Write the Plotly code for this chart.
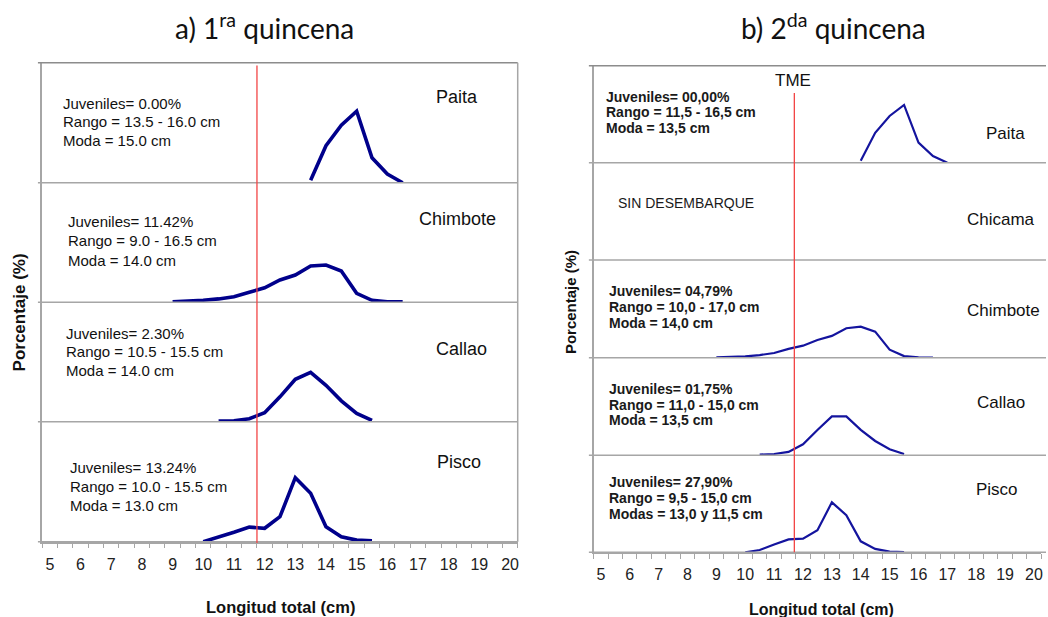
import plotly.graph_objects as go

W, H = 1048, 617

# ---------------- data (percent by total length, cm) ----------------
left_sites = ["Paita", "Chimbote", "Callao", "Pisco"]
right_sites = ["Paita", "Chicama", "Chimbote", "Callao", "Pisco"]

paita1_x = [13.5, 14.0, 14.5, 15.0, 15.5, 16.0, 16.5]
paita1_y = [1.2, 18.5, 28.8, 35.8, 12.5, 4.3, 0.0]
chimbote1_x = [9.0, 9.5, 10.0, 10.5, 11.0, 11.5, 12.0, 12.5, 13.0, 13.5, 14.0, 14.5, 15.0, 15.5, 16.0, 16.5]
chimbote1_y = [0.3, 0.5, 1.0, 1.7, 2.8, 5.0, 7.3, 11.2, 13.7, 18.2, 18.7, 15.7, 4.5, 1.0, 0.2, 0.2]
callao1_x = [10.5, 11.0, 11.5, 12.0, 12.5, 13.0, 13.5, 14.0, 14.5, 15.0, 15.5]
callao1_y = [0.3, 0.5, 1.5, 4.5, 12.5, 21.3, 24.8, 18.3, 10.5, 4.2, 0.7]
pisco1_x = [10.0, 10.5, 11.0, 11.5, 12.0, 12.5, 13.0, 13.5, 14.0, 14.5, 15.0, 15.5]
pisco1_y = [0.0, 2.2, 4.7, 7.3, 6.7, 12.5, 32.0, 24.2, 7.5, 2.5, 0.8, 0.5]

paita2_x = [14.0, 14.5, 15.0, 15.5, 16.0, 16.5, 17.0]
paita2_y = [1.2, 18.5, 28.9, 35.7, 12.4, 4.1, 0.0]
chicama2_x = []
chicama2_y = []
chimbote2_x = [9.0, 9.5, 10.0, 10.5, 11.0, 11.5, 12.0, 12.5, 13.0, 13.5, 14.0, 14.5, 15.0, 15.5, 16.0, 16.5]
chimbote2_y = [0.2, 0.4, 0.8, 1.6, 2.9, 5.4, 7.4, 10.9, 13.4, 18.1, 19.1, 16.0, 4.9, 1.0, 0.2, 0.0]
callao2_x = [10.5, 11.0, 11.5, 12.0, 12.5, 13.0, 13.5, 14.0, 14.5, 15.0, 15.5]
callao2_y = [0.4, 0.8, 2.1, 6.8, 15.6, 23.9, 23.9, 15.6, 8.8, 3.7, 0.8]
pisco2_x = [10.0, 10.5, 11.0, 11.5, 12.0, 12.5, 13.0, 13.5, 14.0, 14.5, 15.0, 15.5]
pisco2_y = [0.0, 1.4, 4.8, 8.0, 8.4, 13.6, 30.9, 23.0, 6.8, 2.1, 0.4, 0.2]

tick_vals = [5, 6, 7, 8, 9, 10, 11, 12, 13, 14, 15, 16, 17, 18, 19, 20]
tick_text = ["5", "6", "7", "8", "9", "10", "11", "12", "13", "14", "15", "16", "17", "18", "19", "20"]
tme_left = 11.75
tme_right = 11.7

left_info = [
    ["Juveniles= 0.00%", "Rango = 13.5 - 16.0 cm", "Moda = 15.0 cm"],
    ["Juveniles= 11.42%", "Rango = 9.0 - 16.5 cm", "Moda = 14.0 cm"],
    ["Juveniles= 2.30%", "Rango = 10.5 - 15.5 cm", "Moda = 14.0 cm"],
    ["Juveniles= 13.24%", "Rango = 10.0 - 15.5 cm", "Moda = 13.0 cm"],
]
right_info = [
    ["Juveniles= 00,00%", "Rango = 11,5 - 16,5 cm", "Moda = 13,5 cm"],
    ["SIN DESEMBARQUE"],
    ["Juveniles= 04,79%", "Rango = 10,0 - 17,0 cm", "Moda = 14,0 cm"],
    ["Juveniles= 01,75%", "Rango = 11,0 - 15,0 cm", "Moda = 13,5 cm"],
    ["Juveniles= 27,90%", "Rango = 9,5 - 15,0 cm", "Modas = 13,0 y 11,5 cm"],
]

left_series = [(paita1_x, paita1_y), (chimbote1_x, chimbote1_y), (callao1_x, callao1_y), (pisco1_x, pisco1_y)]
right_series = [(paita2_x, paita2_y), (chicama2_x, chicama2_y), (chimbote2_x, chimbote2_y),
                (callao2_x, callao2_y), (pisco2_x, pisco2_y)]

# ---------------- layout geometry (pixels) ----------------
def px(x):
    return x / W

def py(y):
    return 1 - y / H

L_X0, L_X1 = 42.3, 518.7
R_X0, R_X1 = 594.8, 1043.2
L_bands = [(62.7, 182.7), (182.7, 302.3), (302.3, 421.7), (421.7, 541.7)]
R_bands = [(65.7, 162.7), (162.7, 260.0), (260.0, 357.7), (357.7, 455.3), (455.3, 552.3)]

GRAY = "#a6a6a6"
ARIAL = "Liberation Sans, Arial, sans-serif"
LINE_L = "#00008b"
LINE_R = "#14149e"

fig = go.Figure()
layout = dict(
    width=W, height=H, autosize=False,
    margin=dict(l=0, r=0, t=0, b=0),
    paper_bgcolor="white", plot_bgcolor="white",
    showlegend=False,
)

# x axes
common_x = dict(
    range=[4.75, 20.25], tickmode="array", tickvals=tick_vals, ticktext=tick_text,
    ticks="", showgrid=False, zeroline=False, showline=True, linecolor=GRAY, linewidth=1.5,
    tickfont=dict(family=ARIAL, size=16, color="#222"),
    minor=dict(tickmode="linear", tick0=4.75, dtick=0.5, ticks="outside", ticklen=5,
               tickcolor=GRAY, tickwidth=1, showgrid=False),
    fixedrange=True,
)
layout["xaxis"] = dict(common_x, domain=[px(L_X0), px(L_X1)], anchor="y4", ticklabelstandoff=7)
layout["xaxis2"] = dict(common_x, domain=[px(R_X0), px(R_X1)], anchor="y9", ticklabelstandoff=7)

common_y = dict(range=[0, 60], showticklabels=False, ticks="", showgrid=False, zeroline=False,
                showline=True, linecolor=GRAY, linewidth=1.5, fixedrange=True)

for i, (t, b) in enumerate(L_bands):
    name = "yaxis" if i == 0 else f"yaxis{i + 1}"
    layout[name] = dict(common_y, domain=[py(b), py(t)], anchor="x")
for j, (t, b) in enumerate(R_bands):
    layout[f"yaxis{j + 5}"] = dict(common_y, domain=[py(b), py(t)], anchor="x2")

# traces
for i, (xs, ys) in enumerate(left_series):
    fig.add_trace(go.Scatter(x=xs, y=ys, mode="lines", xaxis="x",
                             yaxis="y" if i == 0 else f"y{i + 1}",
                             line=dict(color=LINE_L, width=3.6), hoverinfo="skip"))
for j, (xs, ys) in enumerate(right_series):
    fig.add_trace(go.Scatter(x=xs, y=ys, mode="lines", xaxis="x2", yaxis=f"y{j + 5}",
                             line=dict(color=LINE_R, width=2.2), hoverinfo="skip"))

shapes = []
# left frame: top border, separators, right border
shapes.append(dict(type="line", xref="paper", yref="paper", x0=px(38), x1=px(L_X1),
                   y0=py(L_bands[0][0]), y1=py(L_bands[0][0]), line=dict(color="#8c8c8c", width=1.5)))
for (t, b) in L_bands:
    shapes.append(dict(type="line", xref="paper", yref="paper", x0=px(38), x1=px(L_X1),
                       y0=py(b), y1=py(b), line=dict(color=GRAY, width=1.5)))
shapes.append(dict(type="line", xref="paper", yref="paper", x0=px(L_X1), x1=px(L_X1),
                   y0=py(L_bands[-1][1]), y1=py(L_bands[0][0]), line=dict(color=GRAY, width=1.5)))
# right frame
shapes.append(dict(type="line", xref="paper", yref="paper", x0=px(590), x1=1,
                   y0=py(R_bands[0][0]), y1=py(R_bands[0][0]), line=dict(color="#8c8c8c", width=1.5)))
for (t, b) in R_bands:
    shapes.append(dict(type="line", xref="paper", yref="paper", x0=px(590), x1=1,
                       y0=py(b), y1=py(b), line=dict(color=GRAY, width=1.5)))
# TME lines
shapes.append(dict(type="line", xref="x", yref="paper", x0=tme_left, x1=tme_left,
                   y0=py(543), y1=py(65.5), line=dict(color="#f24444", width=1.3)))
shapes.append(dict(type="line", xref="x2", yref="paper", x0=tme_right, x1=tme_right,
                   y0=py(552.3), y1=py(93), line=dict(color="#f24444", width=1.3)))
layout["shapes"] = shapes

ann = []
def text(x, y, s, size, xanchor="left", bold=False, family=ARIAL, color="#111", angle=0):
    if bold:
        s = f"<b>{s}</b>"
    ann.append(dict(x=px(x), y=py(y), xref="paper", yref="paper", text=s, showarrow=False,
                    xanchor=xanchor, yanchor="middle", textangle=angle,
                    font=dict(family=family, size=size, color=color)))

# titles
text(265, 26, "a) 1<sup>ra</sup> quincena", 28, "center", family="Lato, Open Sans, sans-serif", color="#111")
text(835, 26, "b) 2<sup>da</sup> quincena", 28, "center", family="Lato, Open Sans, sans-serif", color="#111")

# left info blocks
left_pos = [(61, [103, 121.5, 140]), (65.7, [221.7, 240.7, 260]),
            (64.3, [333.3, 351.7, 370.7]), (68.3, [467.7, 486, 505.3])]
for lines, (x0, ys) in zip(left_info, left_pos):
    for s, y in zip(lines, ys):
        text(x0, y, s, 15)
left_lab = [(458, 97.3), (458, 219.3), (462, 349.3), (460, 461.7)]
for s, (x, y) in zip(left_sites, left_lab):
    text(x, y, s, 18, "center")

# right info blocks
right_pos = [(605, [97, 112.5, 128]), (616.7, [202.7]), (607.7, [290.5, 306.7, 322.7]),
             (608.3, [389, 404.5, 420]), (608.3, [482.3, 498.3, 514.3])]
for lines, (x0, ys) in zip(right_info, right_pos):
    bold = len(lines) > 1
    for s, y in zip(lines, ys):
        text(x0, y, s, 14 if bold else 14, bold=bold, color="#1a1a1a")
right_lab = [(1007.7, 133.3), (1003, 219.3), (1005, 310.7), (1002.7, 402.7), (999.3, 489.3)]
for s, (x, y) in zip(right_sites, right_lab):
    text(x, y, s, 17, "center")

text(795, 81, "TME", 17, "center")

# axis titles
text(281, 606.5, "Longitud total (cm)", 16.5, "center", bold=True)
text(823, 609, "Longitud total (cm)", 16, "center", bold=True)
text(20, 312.5, "Porcentaje (%)", 17, "center", bold=True, angle=-90)
text(571.7, 302.5, "Porcentaje (%)", 15, "center", bold=True, angle=-90)

layout["annotations"] = ann
fig.update_layout(**layout)
fig.write_html("out.html", config={"displayModeBar": False})
